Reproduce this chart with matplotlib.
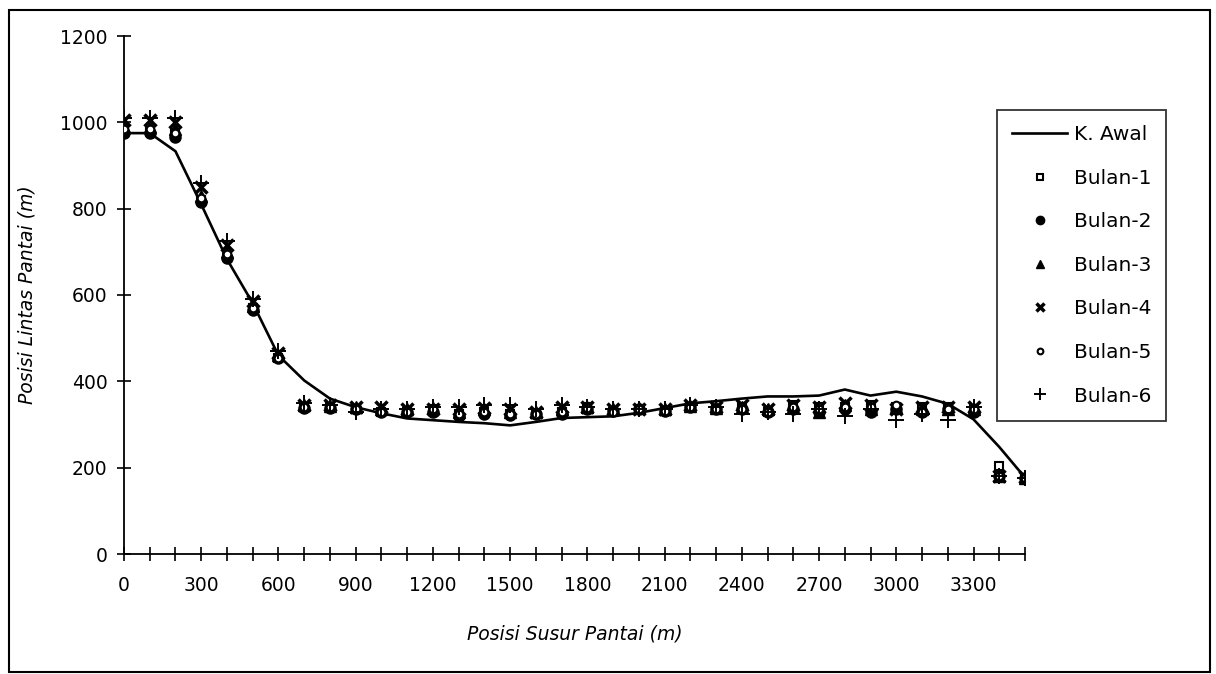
import matplotlib
matplotlib.use("Agg")
import matplotlib.pyplot as plt
from matplotlib.patches import Rectangle
from matplotlib.ticker import MultipleLocator

plt.rcParams['font.family'] = ['DejaVu Sans']

x = list(range(0, 3600, 100))
k_awal = [975, 975, 933, 810, 683, 581, 460, 402, 360, 340, 326, 314, 310, 306, 303,
          298, 306, 315, 317, 319, 327, 338, 349, 354, 360, 365, 365, 367, 381, 367,
          376, 365, 348, 312, 248, 177]
bulan1 = [985, 980, 975, 820, 690, 570, 455, 340, 340, 335, 330, 330, 335, 325, 330,
          325, 325, 330, 340, 330, 335, 332, 340, 335, 340, 330, 345, 340, 340, 345,
          340, 340, 340, 335, 205, 175]
bulan2 = [975, 975, 965, 815, 685, 565, 455, 338, 338, 335, 330, 328, 330, 320, 325,
          322, 325, 325, 335, 332, 335, 332, 340, 335, 335, 328, 335, 328, 335, 330,
          335, 330, 335, 328, 180, 175]
bulan3 = [990, 990, 985, 830, 700, 575, 460, 345, 342, 340, 335, 335, 338, 330, 335,
          330, 330, 335, 340, 335, 338, 335, 342, 338, 340, 335, 340, 330, 345, 335,
          340, 335, 335, 335, 180, 175]
bulan4 = [1005, 1005, 1000, 850, 715, 585, 465, 345, 345, 340, 340, 335, 335, 335, 338,
          335, 330, 340, 340, 335, 335, 335, 345, 340, 345, 335, 345, 340, 350, 345,
          335, 340, 340, 340, 180, 178]
bulan5 = [985, 985, 975, 825, 695, 570, 455, 340, 340, 335, 330, 330, 335, 325, 330,
          325, 325, 330, 338, 330, 335, 332, 340, 335, 335, 330, 340, 335, 340, 340,
          345, 330, 335, 335, 180, 175]
bulan6 = [1010, 1010, 1010, 860, 725, 590, 470, 350, 345, 330, 335, 335, 340, 340, 345,
          345, 335, 345, 340, 335, 335, 335, 345, 340, 325, 330, 325, 335, 320, 335,
          310, 325, 310, 340, 180, 175]

x_ticks = list(range(0, 3400, 300))
y_ticks = list(range(0, 1400, 200))

W, H = 1216, 674
fig = plt.figure(figsize=(W / 100, H / 100), dpi=100)
ax = fig.add_axes([124 / W, 1 - 554 / H, (1025 - 124) / W, (554 - 36) / H])

ax.plot(x, k_awal, color='black', lw=1.9, label='K. Awal', zorder=2)
ax.plot(x, bulan1, ls='none', marker='s', ms=6, mfc='white', mec='black', mew=1.5, label='Bulan-1', zorder=3)
ax.plot(x, bulan2, ls='none', marker='o', ms=8, color='black', label='Bulan-2', zorder=3)
ax.plot(x, bulan3, ls='none', marker='^', ms=8, color='black', label='Bulan-3', zorder=3)
ax.plot(x, bulan4, ls='none', marker='x', ms=8, color='black', mew=2.5, label='Bulan-4', zorder=3)
ax.plot(x, bulan5, ls='none', marker='o', ms=5.5, mfc='white', mec='black', mew=1.5, label='Bulan-5', zorder=3)
ax.plot(x, bulan6, ls='none', marker='+', ms=12, color='black', mew=1.4, label='Bulan-6', zorder=3)

ax.set_xlim(0, 3500)
ax.set_ylim(0, 1200)
ax.set_xticks(x_ticks)
ax.set_xticklabels([str(v) for v in x_ticks])
ax.xaxis.set_minor_locator(MultipleLocator(100))
ax.set_yticks(y_ticks)
ax.set_yticklabels([str(v) for v in y_ticks])
for s in ['top', 'right']:
    ax.spines[s].set_visible(False)
for s in ['left', 'bottom']:
    ax.spines[s].set_linewidth(1.3)
ax.tick_params(axis='both', which='both', direction='inout', length=10, width=1.2,
               labelsize=13.5, colors='black')
ax.tick_params(axis='x', which='minor', length=10)
ax.tick_params(axis='x', pad=11)
ax.tick_params(axis='y', pad=7)

ax.set_xlabel('Posisi Susur Pantai (m)', fontsize=13.5, style='italic', labelpad=21)
ax.set_ylabel('Posisi Lintas Pantai (m)', fontsize=13.5, style='italic', labelpad=17)

leg = fig.legend(loc='upper left', bbox_to_anchor=(997 / W, 1 - 110 / H),
                 fontsize=14.5, frameon=True, fancybox=False, edgecolor='black',
                 labelspacing=1.22, handlelength=2.75, handletextpad=0.3,
                 borderpad=0.75, borderaxespad=0, markerscale=0.75)
leg.get_frame().set_linewidth(1.3)

fig.patches.append(Rectangle((9 / W, 1 - 672 / H), (1210 - 9) / W, (672 - 10) / H,
                             transform=fig.transFigure, fill=False, edgecolor='black',
                             lw=1.5))

fig.savefig('out.png', dpi=100)
